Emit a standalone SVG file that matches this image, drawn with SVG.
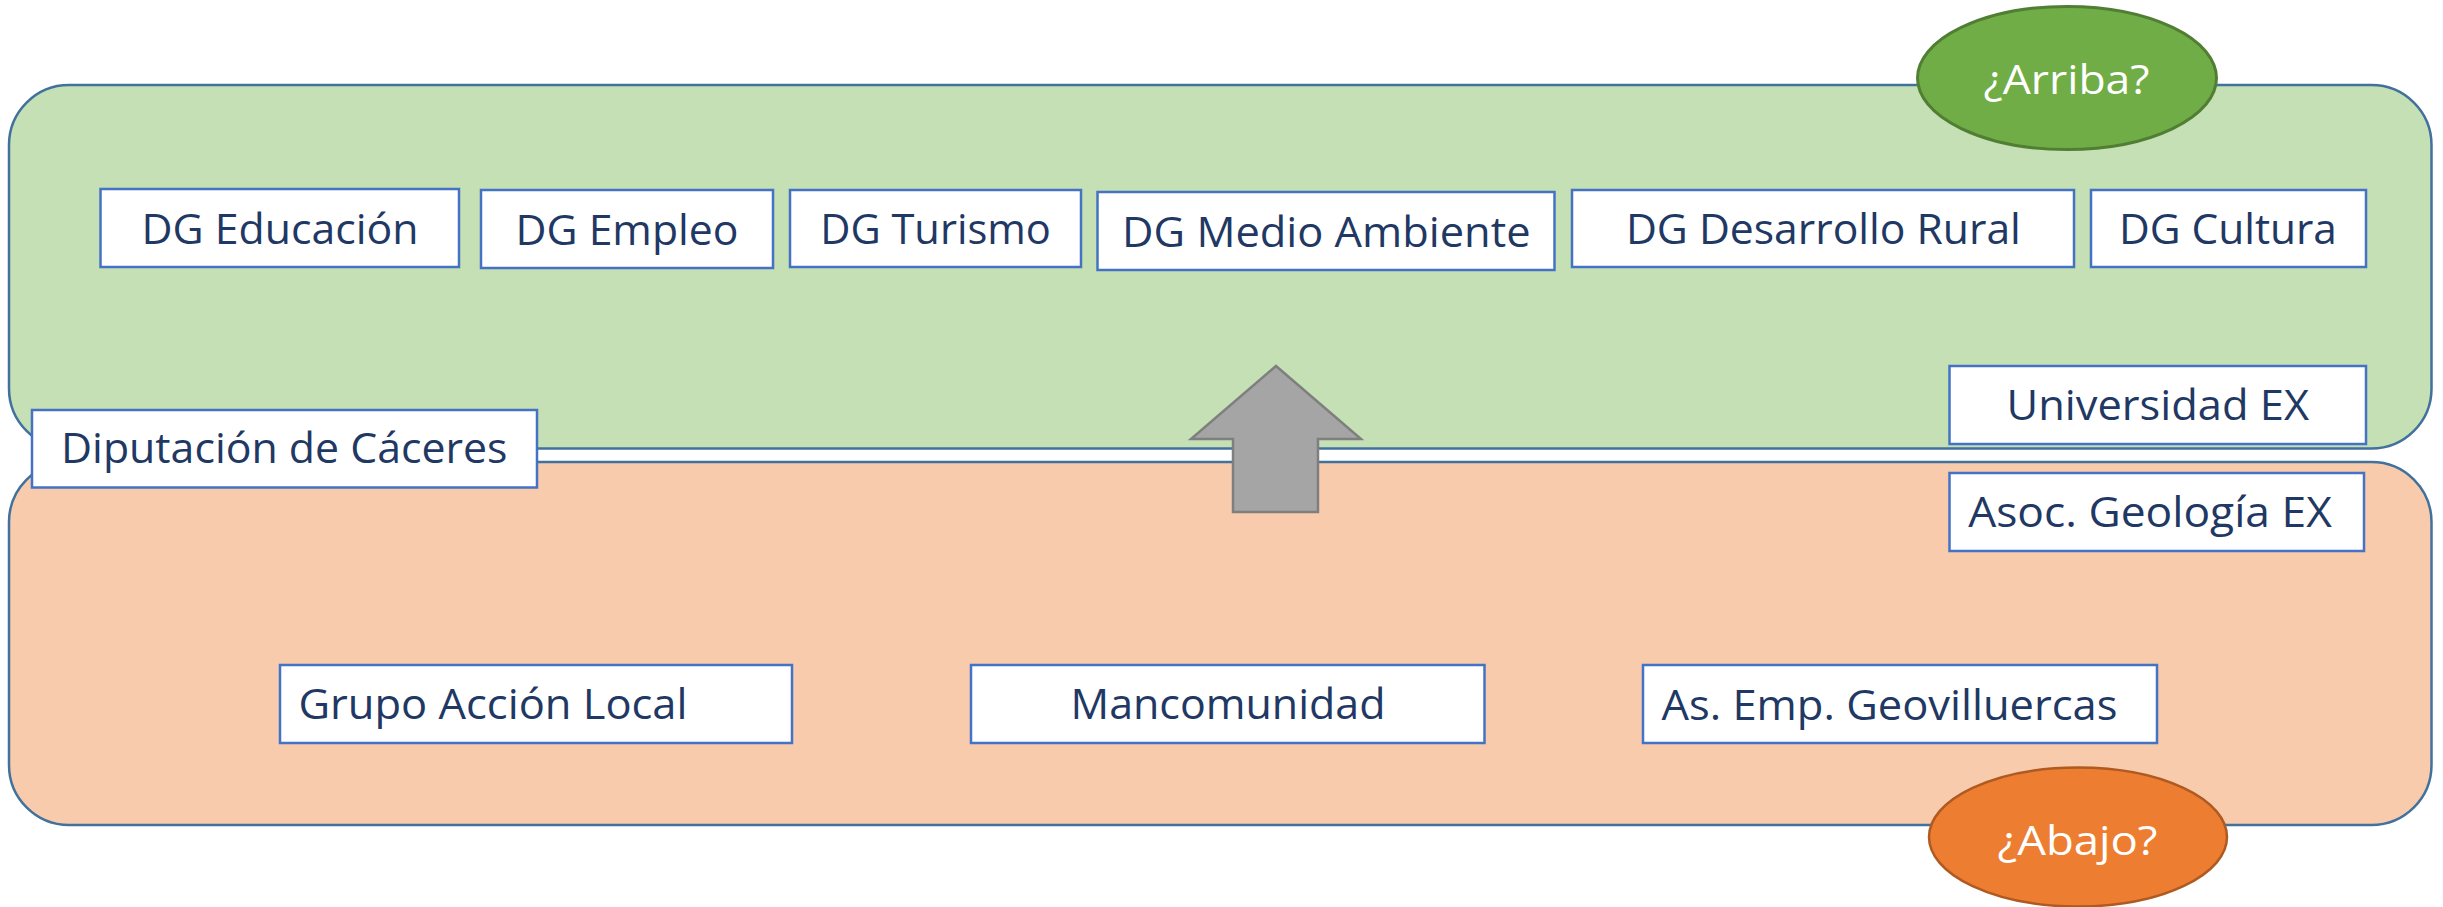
<svg xmlns="http://www.w3.org/2000/svg" width="2443" height="907" viewBox="0 0 2443 907">
<style>
.bg{fill:#ffffff}
.cont{stroke:#41719C;stroke-width:2.5}
.box{fill:#ffffff;stroke:#4472C4;stroke-width:2.5}
.t{font-family:"Open Sans","Noto Sans","Liberation Sans",sans-serif;font-size:42px;fill:#1F3864}
.et{font-family:"Open Sans","Noto Sans","Liberation Sans",sans-serif;font-size:40px;fill:#ffffff}
</style>
<rect class="bg" x="0" y="0" width="2443" height="907"/>
<g id="arriba-group">
<rect class="cont" x="9" y="85" width="2422.5" height="363.5" rx="60" ry="60" fill="#C5E0B4"/>
</g>
<g id="abajo-group">
<rect class="cont" x="9" y="462" width="2422.5" height="363" rx="60" ry="60" fill="#F8CBAD"/>
</g>
<g id="connectors">
<polygon points="1276,366 1361,439 1318,439 1318,512 1233,512 1233,439 1191,439" fill="#A5A5A5" stroke="#7F7F7F" stroke-width="2.5"/>
</g>
<g id="dg-educacion"><rect class="box" x="100.5" y="189" width="358.5" height="78"/><text class="t" x="141.5" y="244" textLength="277" lengthAdjust="spacingAndGlyphs">DG Educación</text></g>
<g id="dg-empleo"><rect class="box" x="481" y="190" width="292" height="78"/><text class="t" x="515.5" y="245" textLength="223" lengthAdjust="spacingAndGlyphs">DG Empleo</text></g>
<g id="dg-turismo"><rect class="box" x="790" y="190" width="291" height="77"/><text class="t" x="820.2" y="243.5" textLength="230.6" lengthAdjust="spacingAndGlyphs">DG Turismo</text></g>
<g id="dg-medio-ambiente"><rect class="box" x="1097.5" y="192" width="457" height="78"/><text class="t" x="1122.1" y="247" textLength="408.4" lengthAdjust="spacingAndGlyphs">DG Medio Ambiente</text></g>
<g id="dg-desarrollo-rural"><rect class="box" x="1572" y="190" width="502" height="77"/><text class="t" x="1625.9" y="243.5" textLength="395" lengthAdjust="spacingAndGlyphs">DG Desarrollo Rural</text></g>
<g id="dg-cultura"><rect class="box" x="2091" y="190" width="275" height="77"/><text class="t" x="2118.9" y="243.5" textLength="218" lengthAdjust="spacingAndGlyphs">DG Cultura</text></g>
<g id="universidad-ex"><rect class="box" x="1949.5" y="366" width="416.5" height="78"/><text class="t" x="2006.5" y="420" textLength="302.6" lengthAdjust="spacingAndGlyphs">Universidad EX</text></g>
<g id="diputacion"><rect class="box" x="32" y="410" width="505" height="77.5"/><text class="t" x="61" y="463" textLength="446.5" lengthAdjust="spacingAndGlyphs">Diputación de Cáceres</text></g>
<g id="asoc-geologia"><rect class="box" x="1949.5" y="473" width="414.5" height="78"/><text class="t" x="1968.2" y="527" textLength="363.6" lengthAdjust="spacingAndGlyphs">Asoc. Geología EX</text></g>
<g id="grupo-accion-local"><rect class="box" x="280" y="665" width="512" height="78"/><text class="t" x="298.5" y="719" textLength="389" lengthAdjust="spacingAndGlyphs">Grupo Acción Local</text></g>
<g id="mancomunidad"><rect class="box" x="971" y="665" width="513.5" height="78"/><text class="t" x="1070.5" y="719" textLength="315" lengthAdjust="spacingAndGlyphs">Mancomunidad</text></g>
<g id="geovilluercas"><rect class="box" x="1643" y="665" width="514" height="78"/><text class="t" x="1661.5" y="720" textLength="456" lengthAdjust="spacingAndGlyphs">As. Emp. Geovilluercas</text></g>
<g id="arriba"><ellipse cx="2067" cy="78" rx="149.5" ry="71.5" fill="#70AD47" stroke="#507E32" stroke-width="3"/><text class="et" x="1983.5" y="94" textLength="166" lengthAdjust="spacingAndGlyphs">¿Arriba?</text></g>
<g id="abajo"><ellipse cx="2078" cy="837" rx="149" ry="69.5" fill="#ED7D31" stroke="#AE5A21" stroke-width="2.5"/><text class="et" x="1997.5" y="855" textLength="160" lengthAdjust="spacingAndGlyphs">¿Abajo?</text></g>
</svg>
